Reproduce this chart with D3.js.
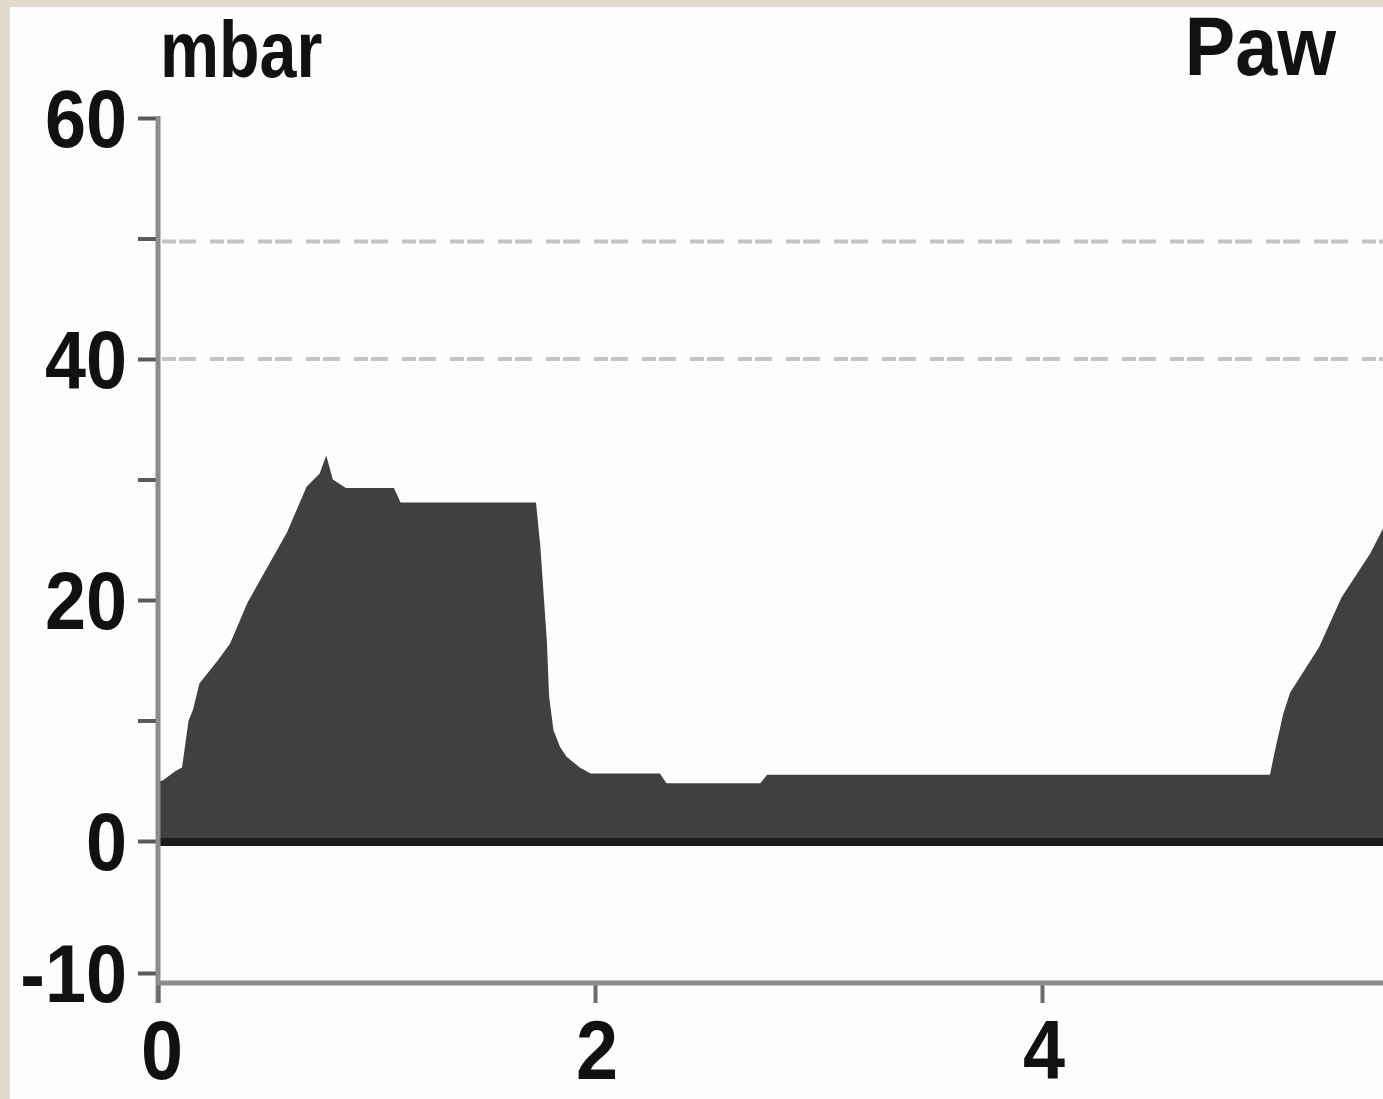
<!DOCTYPE html>
<html>
<head>
<meta charset="utf-8">
<script src="https://cdn.jsdelivr.net/npm/d3@7"></script>
<style>
  html, body { margin: 0; padding: 0; background: #e4dacb; }
  svg { display: block; }
  .lbl { font-family: "Liberation Sans", Arial, sans-serif; font-weight: bold; fill: #111; }
</style>
</head>
<body>
<svg id="chart" width="1383" height="1099"></svg>
<script>
// Airway pressure trace (Paw) over time, one breath plus the start of the next
const timeSec = [0.00, 0.02, 0.08, 0.11, 0.14, 0.16, 0.19, 0.27, 0.33, 0.41, 0.50, 0.59, 0.68, 0.74, 0.77,
                 0.80, 0.86, 1.08, 1.11, 1.73, 1.75, 1.78, 1.79, 1.81, 1.84, 1.87, 1.93, 1.98,
                 2.29, 2.32, 2.74, 2.77, 5.02, 5.04, 5.08, 5.11, 5.24, 5.34, 5.47, 5.56];
const pressure = [5.0, 5.0, 5.8, 6.1, 10.0, 10.9, 13.1, 14.9, 16.4, 19.8, 22.7, 25.6, 29.4, 30.5, 32.0,
                  30.0, 29.3, 29.3, 28.1, 28.1, 24.4, 16.5, 12.0, 9.2, 7.8, 7.0, 6.1, 5.6,
                  5.6, 4.8, 4.8, 5.5, 5.5, 7.3, 10.6, 12.3, 16.1, 20.2, 23.9, 27.2];

const yTickValues = [-10, 0, 10, 20, 30, 40, 50, 60];
const yTickLabels = [-10, 0, 20, 40, 60];
const xTickValues = [0, 2, 4];
const limitLines = [50, 40];
const unitLabel = "mbar";
const traceLabel = "Paw";

const W = 1383, H = 1099;
const svg = d3.select("#chart");

// page frame and white panel
svg.append("rect").attr("width", W).attr("height", H).attr("fill", "#e4dacb");
svg.append("rect").attr("x", 10).attr("y", 7).attr("width", W - 10).attr("height", H - 7).attr("fill", "#fdfdfd");

const x = d3.scaleLinear().domain([0, 2, 4]).range([158, 595, 1042]);
const y = d3.scaleLinear().domain([-10, 0, 40, 60]).range([973, 841, 359, 118]);
const axisBottomY = 983;
const plotRight = W;

// dashed alarm limit lines
svg.append("g").selectAll("line").data(limitLines).join("line")
  .attr("x1", x(0) + 4).attr("x2", plotRight)
  .attr("y1", d => y(d) + (d === 50 ? 3 : 0)).attr("y2", d => y(d) + (d === 50 ? 3 : 0))
  .attr("stroke", "#c4c4c4").attr("stroke-width", 4)
  .attr("stroke-dasharray", "14,3,17,14");

// pressure area
const area = d3.area()
  .x((d, i) => x(timeSec[i]))
  .y0(y(0))
  .y1(d => y(d))
  .curve(d3.curveLinear);

svg.append("defs").append("clipPath").attr("id", "plotclip")
  .append("rect").attr("x", x(0) + 2).attr("y", 0).attr("width", plotRight - x(0)).attr("height", H);

svg.append("path")
  .datum(pressure)
  .attr("clip-path", "url(#plotclip)")
  .attr("d", area)
  .attr("fill", "#404040");

// zero baseline
svg.append("line")
  .attr("x1", x(0)).attr("x2", plotRight)
  .attr("y1", y(0) + 1).attr("y2", y(0) + 1)
  .attr("stroke", "#1c1c1c").attr("stroke-width", 8);

// y axis
const yAxis = d3.axisLeft(y).tickValues(yTickValues).tickSize(20).tickFormat("");
const gy = svg.append("g").attr("transform", `translate(${x(0)},0)`).call(yAxis);
gy.select(".domain").remove();
gy.selectAll(".tick line").attr("stroke", "#5a5a5a").attr("stroke-width", 4);
svg.append("line")
  .attr("x1", x(0)).attr("x2", x(0))
  .attr("y1", y(60) - 2).attr("y2", axisBottomY + 20)
  .attr("stroke", "#8c8c8c").attr("stroke-width", 5);

// x axis
const xAxis = d3.axisBottom(x).tickValues(xTickValues).tickSize(20).tickFormat("");
const gx = svg.append("g").attr("transform", `translate(0,${axisBottomY})`).call(xAxis);
gx.select(".domain").remove();
gx.selectAll(".tick line").attr("stroke", "#6a6a6a").attr("stroke-width", 4);
svg.append("line")
  .attr("x1", x(0) - 2).attr("x2", plotRight)
  .attr("y1", axisBottomY).attr("y2", axisBottomY)
  .attr("stroke", "#8c8c8c").attr("stroke-width", 5);

// tick labels, drawn narrow like the monitor font
const sx = 0.9;
svg.append("g").selectAll("text").data(yTickLabels).join("text")
  .attr("class", "lbl")
  .attr("font-size", 82)
  .attr("text-anchor", "end")
  .attr("transform", d => `translate(127,${y(d) + 29}) scale(${sx},1)`)
  .text(d => d);

svg.append("g").selectAll("text").data(xTickValues).join("text")
  .attr("class", "lbl")
  .attr("font-size", 84)
  .attr("text-anchor", "middle")
  .attr("transform", d => `translate(${x(d) + (d === 0 ? 4 : 2)},1079) scale(${sx},1)`)
  .text(d => d);

svg.append("text").attr("class", "lbl")
  .attr("font-size", 80)
  .attr("transform", `translate(160,77) scale(0.83,1)`)
  .text(unitLabel);

svg.append("text").attr("class", "lbl")
  .attr("font-size", 84)
  .attr("text-anchor", "end")
  .attr("transform", `translate(1336,75) scale(0.9,1)`)
  .text(traceLabel);
</script>
</body>
</html>
